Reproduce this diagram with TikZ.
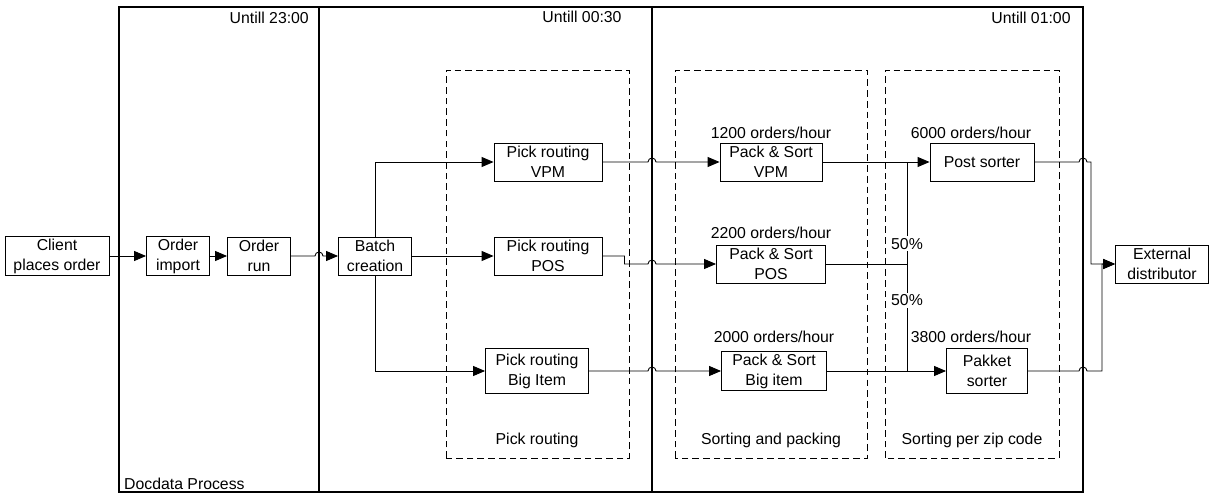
\documentclass[tikz,border=0pt]{standalone}
\usepackage{fontspec}
\setmainfont{Liberation Sans}
\usetikzlibrary{arrows.meta,positioning,calc}

\tikzset{
    box/.style={draw,align=center,minimum height=0.76cm,inner sep=1pt,font=\fontsize{9}{11.4}\selectfont},
    flow/.style={-{Triangle[length=0.24cm,width=0.2cm]}},
    group/.style={draw,dash pattern=on 3.8pt off 2.3pt},
    lbl/.style={inner sep=1pt,font=\fontsize{9}{11.4}\selectfont},
    lane/.style={line width=0.7pt},
}

\begin{document}
\begin{tikzpicture}[x=0.02cm,y=0.02cm,line width=0.5pt]
    \useasboundingbox (0,0) rectangle (1212,493);
    % pool and lanes
    \coordinate (l1) at (319,0);
    \coordinate (l2) at (652,0);
    \coordinate (l3) at (1083,0);
    \draw[lane] (119,1) rectangle (1083,486);
    \draw[lane] (319,1) -- (319,486);
    \draw[lane] (652,1) -- (652,486);
    \node[lbl,anchor=east] (t1) at (311,475) {Untill 23:00};
    \node[lbl] (t2) at (582,476) {Untill 00:30};
    \node[lbl] (t3) at (1031,475) {Untill 01:00};
    \node[lbl,anchor=west] (pool) at (122,9) {Docdata Process};

    % groups
    \draw[group] (446,35) rectangle (629,423);
    \draw[group] (675,35) rectangle (867,423);
    \draw[group] (885,35) rectangle (1059,423);
    \node[lbl] (g1) at (537,53) {Pick routing};
    \node[lbl] (g2) at (771,53) {Sorting and packing};
    \node[lbl] (g3) at (972,53) {Sorting per zip code};

    % steps
    \node[box,minimum width=2.08cm] (client) at (57,237) {Client\\places order};
    \node[box,minimum width=1.26cm] (import) at (178,237) {Order\\import};
    \node[box,minimum width=1.26cm] (run) at (259,237) {Order\\run};
    \node[box,minimum width=1.46cm] (batch) at (375,237) {Batch\\creation};
    \node[box,minimum width=2.16cm] (pvpm) at (548,331) {Pick routing\\VPM};
    \node[box,minimum width=2.16cm] (ppos) at (548,237) {Pick routing\\POS};
    \node[box,minimum width=2.06cm,minimum height=0.9cm] (pbig) at (537,122) {Pick routing\\Big Item};
    \node[box,minimum width=2.04cm] (svpm) at (771,331) {Pack \& Sort\\VPM};
    \node[box,minimum width=2.18cm] (spos) at (771,229) {Pack \& Sort\\POS};
    \node[box,minimum width=2.1cm] (sbig) at (774,122) {Pack \& Sort\\Big item};
    \node[box,minimum width=2.08cm] (post) at (982,331) {Post sorter};
    \node[box,minimum width=1.62cm,minimum height=0.9cm] (pakket) at (987,122) {Pakket\\sorter};
    \node[box,minimum width=1.86cm] (ext) at (1162,229) {External\\distributor};

    % rates
    \node[lbl] (r1) at (771,360) {1200 orders/hour};
    \node[lbl] (r2) at (771,260) {2200 orders/hour};
    \node[lbl] (r3) at (774,156) {2000 orders/hour};
    \node[lbl] (r4) at (971,360) {6000 orders/hour};
    \node[lbl] (r5) at (971,156) {3800 orders/hour};

    % flows
    \draw[flow] (client) -- (import);
    \draw[flow] (import) -- (run);
    \draw[flow] (run) -- ($(l1 |- run.east)+(-4,0)$) arc[start angle=180,end angle=0,radius=0.08cm] -- (batch);
    \draw[flow] (batch) -- (ppos);
    \draw[flow] (batch.north) |- (pvpm);
    \draw[flow] (batch.south) |- (pbig);
    \draw[flow] (pvpm) -- ($(l2 |- pvpm.east)+(-4,0)$) arc[start angle=180,end angle=0,radius=0.08cm] -- (svpm);
    \draw[flow] (ppos.east) -- ++(22,0) |- ($(l2 |- spos.west)+(-4,0)$) arc[start angle=180,end angle=0,radius=0.08cm] -- (spos);
    \draw[flow] (pbig) -- ($(l2 |- pbig.east)+(-4,0)$) arc[start angle=180,end angle=0,radius=0.08cm] -- (sbig);
    \draw[flow] (svpm) -- (post);
    \draw[flow] (sbig) -- (pakket);
    \coordinate (split) at (907,229);
    \draw (spos.east) -- (split);
    \draw (split) -- (split |- post.west) node[lbl,pos=0.2,fill=white] {50\%};
    \draw (split) -- (split |- pakket.west) node[lbl,pos=0.34,fill=white] {50\%};
    \draw[flow] (post) -- ($(l3 |- post.east)+(-4,0)$) arc[start angle=180,end angle=0,radius=0.08cm] -- ($(l3 |- post.east)+(8,0)$) |- (ext);
    \draw[flow] (pakket) -- ($(l3 |- pakket.east)+(-4,0)$) arc[start angle=180,end angle=0,radius=0.08cm] -- ($(l3 |- pakket.east)+(19,0)$) |- (ext);
\end{tikzpicture}
\end{document}
